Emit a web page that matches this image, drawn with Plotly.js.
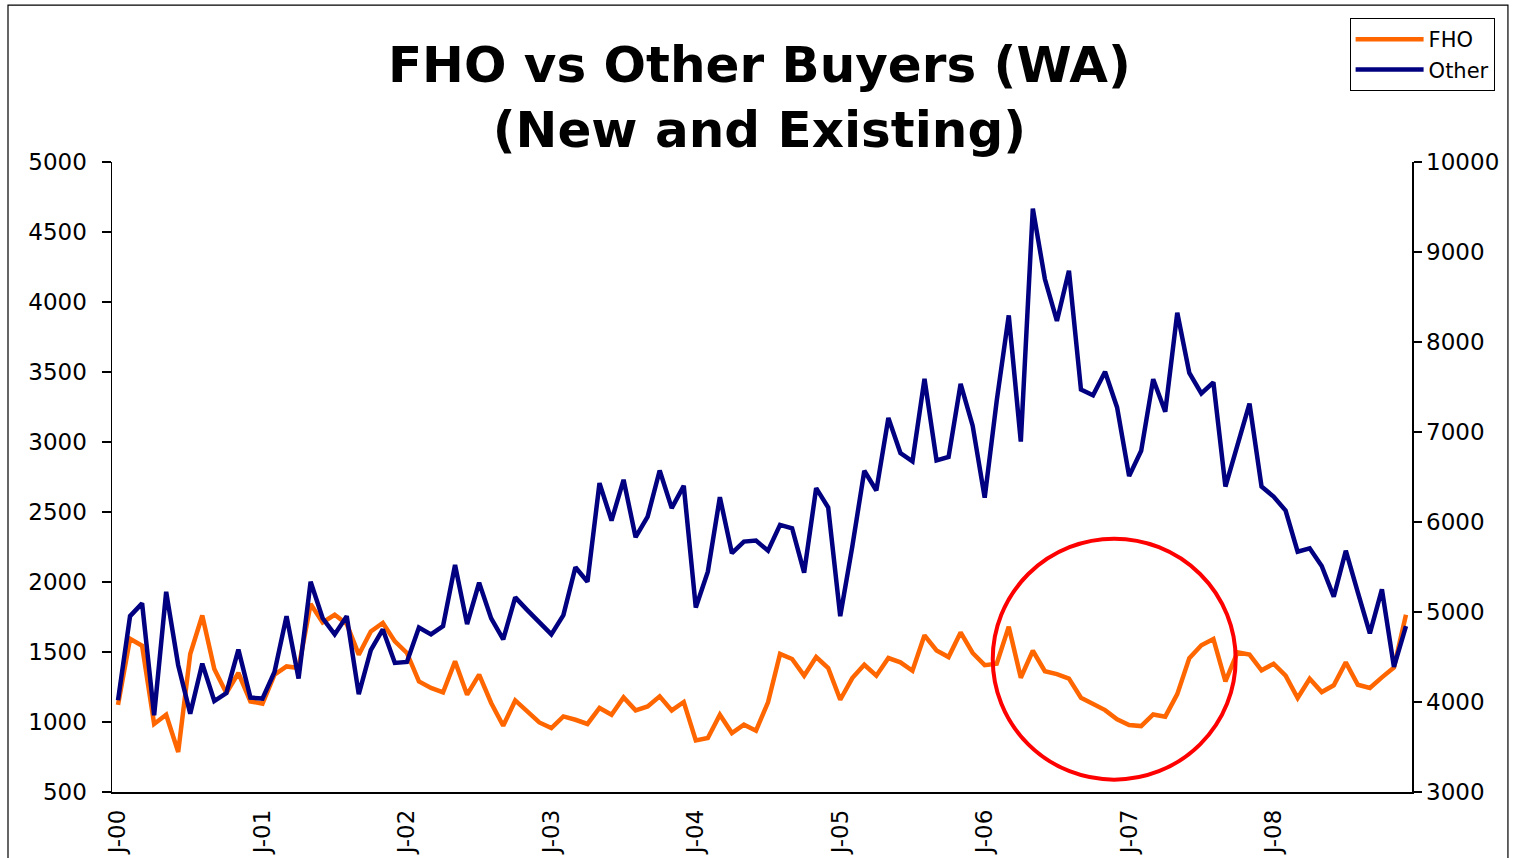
<!DOCTYPE html>
<html>
<head>
<meta charset="utf-8">
<script src="https://cdn.plot.ly/plotly-3.0.1.min.js"></script>
<style>html,body{margin:0;padding:0;background:#fff;}#chart{width:1514px;height:858px;}</style>
</head>
<body>
<div id="chart"></div>
<script>
// Monthly values, Jan 2000 .. Dec 2008
const fho = [
  1123, 1595, 1545, 986, 1052, 786, 1486, 1761, 1379, 1207, 1350, 1147,
  1131, 1338, 1397, 1386, 1843, 1711, 1766, 1700, 1481, 1647, 1707, 1576,
  1493, 1290, 1243, 1211, 1433, 1195, 1338, 1136, 973, 1154, 1076, 997,
  957, 1040, 1016, 986, 1100, 1052, 1176, 1083, 1111, 1183, 1083, 1143,
  869, 886, 1052, 921, 981, 938, 1140, 1486, 1450, 1331, 1464, 1386,
  1159, 1314, 1409, 1331, 1457, 1426, 1366, 1619, 1511, 1464, 1640, 1493,
  1406, 1416, 1681, 1316, 1509, 1363, 1342, 1310, 1173, 1133, 1085, 1019,
  979, 971, 1054, 1038, 1199, 1456, 1548, 1593, 1290, 1497, 1481, 1369,
  1416, 1331, 1171, 1309, 1214, 1262, 1426, 1266, 1243, 1319, 1390, 1766
];
const other = [
  4019, 4954, 5096, 3852, 5225, 4409, 3871, 4427, 4011, 4100, 4583, 4049,
  4038, 4334, 4954, 4261, 5336, 4930, 4751, 4954, 4086, 4576, 4806, 4434,
  4445, 4828, 4751, 4843, 5522, 4865, 5325, 4929, 4695, 5162, 5021, 4880,
  4751, 4965, 5497, 5336, 6432, 6016, 6469, 5831, 6060, 6572, 6154, 6402,
  5051, 5448, 6276, 5653, 5782, 5793, 5681, 5968, 5931, 5437, 6376, 6160,
  4954, 5726, 6569, 6350, 7156, 6766, 6673, 7590, 6684, 6722, 7534, 7070,
  6270, 7347, 8296, 6893, 9483, 8700, 8234, 8791, 7471, 7409, 7669, 7273,
  6510, 6791, 7587, 7224, 8325, 7657, 7428, 7552, 6394, 6855, 7315, 6394,
  6283, 6127, 5670, 5708, 5511, 5169, 5681, 5218, 4762, 5252, 4390, 4843
];
const yearLabels = ['J-00','J-01','J-02','J-03','J-04','J-05','J-06','J-07','J-08'];
const seriesNames = ['FHO', 'Other'];

const monthIdx = fho.map((_, i) => i);
const yearTickVals = yearLabels.map((_, k) => k * 12);
const xRange = [-0.5, fho.length - 0.5];

const FONT = 'DejaVu Sans';
const tickFont = {family: FONT, size: 23, color: '#000'};

const traces = [
  {x: monthIdx, y: fho, name: seriesNames[0], type: 'scatter', mode: 'lines',
   line: {color: '#FF6600', width: 4.5}, xaxis: 'x', yaxis: 'y'},
  {x: monthIdx, y: other, name: seriesNames[1], type: 'scatter', mode: 'lines',
   line: {color: '#000080', width: 4.5}, xaxis: 'x', yaxis: 'y2'}
];

const layout = {
  width: 1514, height: 858,
  margin: {l: 112, r: 102, t: 162, b: 66, pad: 0},
  paper_bgcolor: '#fff', plot_bgcolor: '#fff',
  title: {
    text: '<b>FHO vs Other Buyers (WA)</b><br><b>(New and Existing)</b>',
    font: {family: FONT, size: 50, color: '#000'},
    x: 0.498, xref: 'paper', xanchor: 'center',
    y: 0.904, yref: 'container', yanchor: 'top'
  },
  showlegend: true,
  legend: {
    x: 0.952, y: 1.2286, xanchor: 'left', yanchor: 'top',
    bordercolor: '#000', borderwidth: 1, bgcolor: '#fff',
    font: {family: FONT, size: 21, color: '#000'},
    itemwidth: 68, tracegroupgap: 0
  },
  xaxis: {
    range: xRange, tickmode: 'array', tickvals: yearTickVals, ticktext: yearLabels,
    tickangle: -90, ticks: '', showline: true, linecolor: '#000', linewidth: 1.5,
    showgrid: false, zeroline: false, tickfont: tickFont, ticklabelstandoff: 7, fixedrange: true
  },
  xaxis2: {
    overlaying: 'x', anchor: 'y', side: 'bottom', range: xRange,
    tickmode: 'linear', tick0: -0.5, dtick: 1, ticks: 'outside', ticklen: 6, tickwidth: 1.2,
    tickcolor: '#000', showticklabels: false, showline: false, showgrid: false, zeroline: false
  },
  xaxis3: {
    overlaying: 'x', anchor: 'y', side: 'bottom', range: xRange,
    tickmode: 'linear', tick0: -0.5, dtick: 1, ticks: 'inside', ticklen: 6, tickwidth: 1.2,
    tickcolor: '#000', showticklabels: false, showline: false, showgrid: false, zeroline: false
  },
  yaxis: {
    range: [500, 5000], tickmode: 'linear', tick0: 500, dtick: 500,
    ticks: 'outside', ticklen: 9, tickwidth: 1.2, tickcolor: '#000',
    showline: true, linecolor: '#000', linewidth: 1.5, showgrid: false, zeroline: false,
    tickfont: tickFont, ticklabelstandoff: 10, tickformat: 'd'
  },
  yaxis3: {
    overlaying: 'y', anchor: 'x', side: 'left', range: [500, 5000],
    tickmode: 'linear', tick0: 500, dtick: 500, ticks: 'inside', ticklen: 8, tickwidth: 1.2,
    tickcolor: '#000', showticklabels: false, showline: false, showgrid: false, zeroline: false
  },
  yaxis2: {
    overlaying: 'y', anchor: 'x', side: 'right', range: [3000, 10000],
    tickmode: 'linear', tick0: 3000, dtick: 1000,
    ticks: 'outside', ticklen: 8, tickwidth: 1.2, tickcolor: '#000',
    showline: true, linecolor: '#000', linewidth: 1.5, showgrid: false, zeroline: false,
    tickfont: tickFont, tickformat: 'd', exponentformat: 'none'
  },
  yaxis4: {
    overlaying: 'y', anchor: 'x', side: 'right', range: [3000, 10000],
    tickmode: 'linear', tick0: 3000, dtick: 1000, ticks: 'inside', ticklen: 8, tickwidth: 1.2,
    tickcolor: '#000', showticklabels: false, showline: false, showgrid: false, zeroline: false
  },
  shapes: [
    {type: 'rect', xref: 'paper', yref: 'paper', x0: -0.08, x1: 1.0738, y0: -0.2, y1: 1.249,
     line: {color: '#000', width: 1.2}, fillcolor: 'rgba(0,0,0,0)', layer: 'below'},
    {type: 'circle', xref: 'x', yref: 'y', x0: 72.67, x1: 92.85, y0: 588, y1: 2309,
     line: {color: '#FF0000', width: 4}}
  ]
};

Plotly.newPlot('chart', traces, layout, {staticPlot: true, displayModeBar: false});
</script>
</body>
</html>
